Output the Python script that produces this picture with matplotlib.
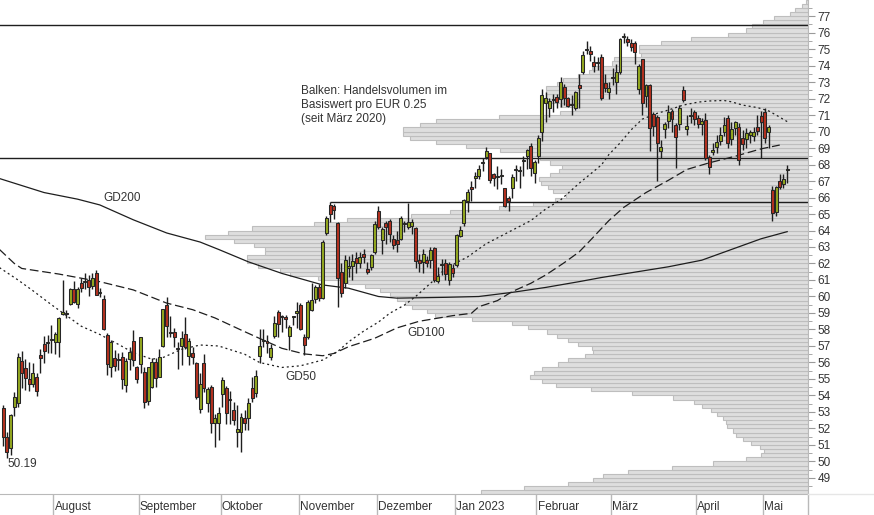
import numpy as np
import matplotlib
matplotlib.use("Agg")
import matplotlib.pyplot as plt
import matplotlib.transforms as mtransforms
from matplotlib.lines import Line2D

plt.rcParams["font.family"] = ["Liberation Sans", "DejaVu Sans"]

# daily candles (open, high, low, close), one list per month, first day 12 Jul 2022
jul = [
    (53.24, 53.40, 50.95, 51.48), (51.50, 51.80, 50.19, 50.59), (50.84, 52.90, 50.39, 52.82),
    (53.32, 54.19, 52.75, 53.93), (53.56, 56.59, 53.30, 56.35), (56.11, 56.72, 54.43, 55.34),
    (55.64, 56.19, 54.33, 55.04), (54.99, 56.05, 54.29, 54.67), (54.67, 55.95, 54.49, 55.34),
    (55.10, 55.35, 53.99, 54.27), (56.45, 56.80, 55.38, 56.25), (57.12, 57.60, 55.95, 56.72),
    (57.18, 57.66, 56.55, 57.22), (57.38, 58.25, 56.60, 57.42),
]
aug = [
    (57.22, 57.87, 56.50, 57.72), (57.22, 58.73, 56.35, 58.67), (58.95, 60.99, 58.90, 59.05),
    (58.92, 59.20, 58.67, 58.98), (59.52, 60.49, 59.50, 60.43), (60.43, 60.96, 59.62, 59.68),
    (59.52, 60.60, 59.28, 60.43), (60.84, 61.10, 60.29, 60.49), (60.88, 61.40, 60.43, 60.92),
    (60.99, 61.30, 60.03, 60.55), (60.63, 61.40, 60.43, 61.14), (61.40, 61.60, 60.09, 60.09),
    (60.20, 60.49, 59.99, 60.28), (59.83, 60.09, 57.97, 58.03), (57.66, 57.80, 55.24, 55.91),
    (55.71, 57.36, 55.14, 57.26), (56.25, 56.76, 55.48, 55.79), (56.20, 56.55, 55.55, 56.15),
    (56.31, 56.65, 54.37, 54.98), (54.63, 56.25, 54.23, 56.11), (56.21, 56.92, 55.54, 56.65),
    (57.32, 57.97, 55.79, 56.15), (55.71, 55.80, 54.74, 54.98),
]
sep = [
    (55.89, 57.52, 55.38, 57.52), (55.40, 55.71, 53.22, 53.62), (53.66, 55.71, 53.42, 55.71),
    (54.49, 56.25, 54.43, 56.05), (56.05, 56.25, 54.49, 55.04), (55.10, 56.80, 55.10, 56.35),
    (56.99, 59.22, 56.92, 59.22), (59.48, 59.99, 57.52, 58.23), (57.85, 58.82, 57.52, 57.80),
    (57.87, 58.07, 56.92, 57.52), (56.88, 57.26, 55.58, 56.82), (56.99, 57.93, 55.85, 57.46),
    (57.72, 58.73, 56.80, 56.92), (56.39, 57.50, 55.85, 57.30), (56.60, 56.92, 55.90, 56.35),
    (55.95, 56.00, 53.80, 53.89), (53.16, 55.34, 52.96, 54.67), (55.95, 56.49, 54.20, 54.43),
    (53.56, 54.50, 53.02, 54.37), (54.49, 54.63, 51.71, 52.35), (52.31, 52.90, 50.90, 52.62),
    (52.31, 53.30, 51.30, 52.92),
]
okt = [
    (54.09, 55.15, 53.30, 54.94), (54.47, 54.57, 52.30, 52.96), (53.80, 54.30, 52.30, 53.75),
    (53.12, 53.60, 52.20, 52.52), (51.77, 53.40, 50.90, 51.97), (51.81, 52.96, 50.60, 52.72),
    (52.66, 53.10, 51.90, 52.31), (52.62, 53.83, 51.90, 53.52), (54.43, 55.14, 53.63, 53.83),
    (54.13, 55.55, 53.93, 55.18), (56.39, 58.00, 55.95, 57.02), (57.30, 58.00, 56.95, 57.36),
    (57.30, 57.65, 56.55, 57.20), (56.35, 57.15, 56.15, 56.86), (57.60, 58.80, 57.46, 58.37),
    (59.04, 59.18, 57.55, 58.33), (58.82, 58.88, 57.87, 58.78), (58.75, 58.88, 58.07, 58.66),
    (57.60, 58.27, 56.76, 58.13), (58.73, 58.84, 58.27, 58.80), (58.97, 59.68, 58.07, 59.10),
]
nov = [
    (59.48, 59.58, 57.97, 58.01), (57.57, 57.70, 56.45, 57.06), (57.57, 59.80, 57.40, 59.68),
    (59.18, 60.80, 59.10, 59.79), (59.85, 60.70, 59.60, 60.60), (60.60, 60.75, 59.75, 59.89),
    (59.89, 63.40, 59.85, 63.32), (63.83, 64.85, 63.70, 64.74), (65.55, 65.75, 64.50, 65.00),
    (65.50, 65.60, 64.70, 65.24), (64.43, 64.50, 59.38, 61.10), (61.50, 62.00, 59.95, 60.19),
    (60.80, 62.50, 60.50, 62.21), (61.70, 62.45, 61.20, 61.85), (61.85, 62.60, 61.00, 62.15),
    (62.31, 62.70, 61.40, 62.05), (62.05, 62.70, 61.70, 62.41), (62.58, 62.85, 62.00, 62.37),
    (61.67, 62.10, 61.35, 61.50), (61.77, 62.60, 61.60, 62.52), (62.72, 64.60, 62.60, 64.37),
]
dez = [
    (65.18, 65.50, 64.10, 64.19), (63.42, 64.20, 62.60, 64.07), (64.47, 64.60, 63.20, 64.23),
    (64.57, 64.70, 63.30, 63.77), (63.46, 63.70, 62.85, 63.12), (63.42, 64.00, 62.70, 63.16),
    (63.46, 64.85, 63.40, 64.74), (64.47, 64.60, 63.90, 64.37), (64.23, 65.65, 64.10, 64.53),
    (64.29, 64.70, 63.80, 64.49), (64.13, 64.20, 61.70, 62.15), (62.21, 62.60, 61.50, 62.01),
    (62.11, 62.90, 61.40, 62.56), (62.20, 62.45, 61.80, 62.00), (62.21, 63.00, 61.70, 62.82),
    (62.92, 63.00, 60.85, 61.00), (60.96, 61.80, 60.80, 61.26), (61.88, 62.30, 61.30, 61.92),
    (62.00, 62.30, 61.00, 61.34), (61.00, 62.10, 60.70, 61.95), (61.75, 61.95, 61.20, 61.40),
]
jan = [
    (61.91, 63.80, 61.80, 63.73), (63.69, 64.30, 63.60, 64.03), (64.43, 65.90, 64.30, 65.85),
    (65.80, 66.50, 65.10, 66.35), (66.66, 67.00, 65.80, 66.50), (67.16, 67.55, 66.55, 67.32),
    (67.32, 68.00, 67.10, 67.71), (68.10, 68.40, 67.60, 68.16), (68.44, 69.05, 68.35, 68.84),
    (68.68, 68.70, 66.90, 67.06), (67.43, 67.50, 66.70, 67.16), (67.25, 67.90, 66.50, 67.29),
    (67.32, 67.70, 66.80, 67.35), (66.56, 66.60, 65.45, 65.50), (66.00, 66.10, 65.20, 65.80),
    (66.56, 67.40, 66.00, 67.26), (67.68, 67.95, 67.00, 67.72), (67.58, 67.90, 66.55, 67.62),
    (68.20, 68.50, 67.30, 68.24), (68.52, 68.95, 67.75, 68.88), (69.12, 69.30, 67.30, 67.77),
    (67.50, 68.30, 66.90, 68.13),
]
feb = [
    (68.52, 69.80, 68.10, 69.59), (69.99, 72.60, 69.40, 72.21), (71.71, 72.40, 70.60, 72.01),
    (71.45, 72.05, 70.90, 71.87), (71.93, 72.30, 71.20, 71.97), (72.07, 72.30, 71.40, 71.81),
    (71.95, 73.30, 71.50, 72.98), (72.72, 72.90, 71.60, 72.01), (72.01, 72.10, 71.50, 71.55),
    (71.62, 72.20, 71.00, 71.58), (71.40, 72.45, 71.30, 72.37), (72.82, 73.50, 71.40, 72.62),
    (73.63, 74.90, 73.50, 74.64), (74.95, 75.50, 74.70, 74.99), (74.88, 75.20, 74.30, 74.68),
    (74.23, 74.60, 73.60, 73.99), (74.18, 74.50, 73.70, 74.22), (74.50, 74.70, 71.90, 72.01),
    (72.96, 73.50, 72.40, 72.62), (72.37, 73.00, 72.00, 72.62),
]
mar = [
    (73.27, 73.85, 72.80, 73.32), (72.98, 74.10, 72.30, 73.59), (73.63, 75.65, 73.50, 75.61),
    (75.75, 75.95, 75.35, 75.80), (75.60, 75.80, 75.20, 75.40), (75.34, 75.60, 74.90, 75.14),
    (75.34, 75.50, 74.10, 74.80), (72.56, 74.10, 72.30, 73.99), (74.37, 74.40, 71.00, 71.70),
    (72.17, 72.85, 71.50, 72.82), (72.82, 72.90, 68.80, 70.19), (71.04, 71.20, 69.70, 70.35),
    (70.86, 71.00, 67.00, 69.28), (68.84, 69.50, 68.40, 69.08), (70.15, 70.60, 69.60, 70.45),
    (70.66, 71.60, 70.20, 71.16), (71.26, 71.35, 70.00, 70.74), (70.39, 70.50, 67.80, 69.69),
    (70.43, 71.60, 70.10, 71.44), (72.52, 72.75, 71.80, 71.91), (70.13, 71.00, 69.80, 70.33),
    (70.92, 71.40, 70.50, 70.96), (71.16, 71.30, 70.40, 70.76),
]
apr = [
    (70.80, 71.00, 70.20, 70.43), (70.45, 70.80, 69.80, 70.66), (70.69, 71.10, 68.30, 68.37),
    (68.43, 68.60, 67.40, 67.87), (68.74, 69.30, 68.55, 68.88), (69.04, 69.80, 68.70, 69.34),
    (69.44, 70.30, 69.20, 69.79), (69.99, 70.85, 69.70, 70.39), (70.80, 71.00, 69.00, 69.28),
    (69.55, 70.60, 69.20, 70.15), (70.19, 70.65, 69.80, 70.60), (70.25, 70.50, 68.00, 68.27),
    (69.59, 70.10, 68.85, 69.22), (69.55, 70.20, 69.00, 69.89), (69.79, 70.10, 69.30, 69.95),
    (69.75, 70.30, 69.40, 70.00), (70.25, 71.00, 69.80, 70.05), (70.96, 71.25, 68.40, 70.60),
]
mai = [
    (71.16, 71.45, 69.30, 69.59), (69.99, 70.40, 69.00, 70.25), (66.46, 66.70, 64.55, 65.08),
    (65.14, 66.70, 64.90, 66.62), (67.02, 67.40, 66.50, 66.62), (66.82, 67.40, 66.60, 67.12),
    (67.64, 67.98, 66.85, 67.68),
]

month_names = ["August", "September", "Oktober", "November", "Dezember",
               "Jan 2023", "Februar", "März", "April", "Mai"]

# moving averages (day index, value)
gd50_x = [-1, 4, 8, 13, 17, 21, 26, 31, 35, 40, 43, 48, 53, 58, 65, 69, 75, 80, 86, 90,
          93, 97, 101, 104, 108, 111, 116, 119, 125, 130, 136, 142, 146, 150, 155, 161, 163,
          166, 169, 172, 176, 179, 183, 187, 190, 194, 196, 199, 203, 206, 208, 211]
gd50_y = [61.75, 61.0, 60.35, 59.5, 58.85, 58.2, 57.7, 57.1, 56.6, 56.2, 56.3, 56.8, 57.06,
          57.0, 56.5, 56.0, 55.7, 55.8, 56.15, 56.66, 57.26, 57.9, 58.45, 58.98, 59.48, 60.0,
          61.0, 61.7, 62.4, 63.2, 63.9, 64.6, 65.3, 65.85, 66.86, 67.97, 68.6, 69.3, 70.1,
          70.75, 71.1, 71.3, 71.6, 71.78, 71.85, 71.88, 71.8, 71.6, 71.45, 71.25, 71.0, 70.6]
gd100_x = [-1, 3, 5, 15, 26, 35, 44, 51, 57, 64, 69, 75, 81, 86, 89, 93, 100, 106, 112, 121,
           126, 128, 133, 137, 142, 146, 151, 155, 158, 163, 167, 173, 179, 184, 190, 197, 204, 209]
gd100_y = [62.85, 62.0, 61.7, 61.36, 60.9, 60.4, 59.6, 59.2, 58.7, 57.97, 57.46, 56.86, 56.52,
           56.41, 56.55, 56.96, 57.47, 58.1, 58.5, 58.84, 58.98, 59.38, 59.75, 60.3, 60.8,
           61.3, 62.05, 62.7, 63.4, 64.6, 65.4, 66.3, 67.04, 67.7, 68.1, 68.5, 68.95, 69.18]
gd200_x = [-1, 11, 20, 26, 35, 44, 53, 58, 66, 75, 86, 93, 101, 106, 119, 128, 137, 146, 155,
           161, 179, 188, 196, 204, 211]
gd200_y = [67.15, 66.3, 65.9, 65.55, 64.65, 63.85, 63.3, 62.85, 62.1, 61.4, 60.7, 60.5, 60.0,
           59.9, 59.95, 60.0, 60.25, 60.55, 60.9, 61.15, 61.8, 62.2, 62.85, 63.5, 63.93]

# volume profile, one bar per EUR 0.25 starting at 48.00 (relative units)
profile_start = 48.0
profile_step = 0.25
profile_vol = [
    327, 284, 240, 215, 205, 180, 136, 95,      # 48
    62, 47, 44, 48, 57, 65, 72, 75,             # 50
    81, 82, 85, 91, 97, 106, 114, 135,          # 52
    176, 217, 252, 266, 278, 274, 266, 250,     # 54
    240, 223, 215, 216, 230, 240, 251, 261,     # 56
    280, 296, 336, 373, 381, 396, 403, 411,     # 58
    418, 428, 443, 460, 490, 518, 528, 550,     # 60
    561, 561, 543, 543, 554, 574, 603, 580,     # 62
    556, 494, 461, 397, 358, 309, 275, 253,     # 64
    242, 255, 260, 267, 269, 258, 249, 246,     # 66
    258, 268, 282, 308, 342, 372, 398, 405,     # 68
    405, 388, 372, 309, 248, 233, 248, 258,     # 70
    262, 262, 262, 251, 245, 230, 219, 216,     # 72
    196, 194, 167, 169, 169, 147, 117, 80,      # 74
    62, 56, 45, 34, 18, 13, 6, 2,               # 76
]

level_lines = [76.45, 68.4]

GREEN = "#93a71f"
RED = "#b3311f"
EDGE = "#262626"
INK = "#1e1e1e"
TEXT = "#333333"
GRID = "#b9b9b9"
FS = 8.5

blocks = [jul, aug, sep, okt, nov, dez, jan, feb, mar, apr, mai]
candles = [row for b in blocks for row in b]
o, h, l, c = (np.array(v) for v in zip(*candles))
h = np.maximum(h, np.maximum(o, c))
l = np.minimum(l, np.minimum(o, c))
x = np.arange(len(candles))
month_starts = np.cumsum([len(b) for b in blocks])[:-1]

fig = plt.figure(figsize=(8.74, 5.15), dpi=100)
ax = fig.add_axes([0, 21 / 515, 808 / 874, 494 / 515])
ax2 = ax.twiny()

# volume profile from the right edge
levels = profile_start + profile_step * np.arange(len(profile_vol))
ax2.barh(levels, profile_vol, height=profile_step, align="edge", left=0,
         color="#dedede", edgecolor="#bebebe", linewidth=0.8)
ax2.set_xlim(808, 0)
ax2.set_axis_off()
ax.set_zorder(ax2.get_zorder() + 1)
ax.patch.set_visible(False)

# support / resistance lines
for lv in level_lines:
    ax.axhline(lv, color=INK, lw=1.0, zorder=1)
nov_first = month_starts[3]
top_idx = nov_first + int(np.argmax(h[nov_first:month_starts[4]]))
ax.hlines(h[top_idx], top_idx, 230, color=INK, lw=1.0, zorder=1)

# moving averages
ax.plot(gd200_x, gd200_y, color=INK, lw=0.9, zorder=2)
ax.plot(gd100_x, gd100_y, color=INK, lw=0.9, dashes=(7, 3), zorder=2)
ax.plot(gd50_x, gd50_y, color=INK, lw=0.9, dashes=(1.6, 2.4), zorder=2)

# candles
up = c >= o
body_lo = np.minimum(o, c)
body_h = np.maximum(np.abs(c - o), 0.06)
ax.vlines(x, l, h, color=INK, lw=1.0, zorder=3)
ax.bar(x, body_h, bottom=body_lo, width=0.8,
       color=np.where(up, GREEN, RED), edgecolor=EDGE, linewidth=0.75, zorder=4)

ax.set_xlim(-0.86, 216.6)
ax.set_ylim(48.03, 77.97)

# right price axis
ax.yaxis.tick_right()
ax.set_yticks(np.arange(49, 78, 1))
ax.set_yticks(np.arange(48.5, 78, 1), minor=True)
ax.tick_params(axis="y", which="major", length=5, color="#9a9a9a", labelsize=FS,
               labelcolor=TEXT, pad=2)
ax.tick_params(axis="y", which="minor", length=3, color="#9a9a9a")

# month separators
ax.set_xticks(month_starts - 0.5)
ax.set_xticklabels([])
ax.tick_params(axis="x", which="major", length=15.5, color=GRID, width=1)
trans = mtransforms.blended_transform_factory(ax.transData, ax.transAxes)
for s, name in zip(month_starts, month_names):
    ax.text(s - 0.2, -0.027, name, transform=trans, ha="left", va="center",
            fontsize=FS, color=TEXT)

for side in ["top", "left"]:
    ax.spines[side].set_visible(False)
for side in ["right", "bottom"]:
    ax.spines[side].set_color(GRID)
fig.add_artist(Line2D([808 / 874, 808 / 874], [0, 21 / 515], color=GRID, lw=1))
fig.add_artist(Line2D([808 / 874, 1], [21 / 515, 21 / 515], color="#e6e6e6", lw=1))

# labels
ax.text(27, 65.97, "GD200", fontsize=FS, color=TEXT, va="center", ha="left")
ax.text(76, 55.12, "GD50", fontsize=FS, color=TEXT, va="center", ha="left")
ax.text(108.7, 57.79, "GD100", fontsize=FS, color=TEXT, va="center", ha="left")
ax.text(0.3725, 0.828, "Balken: Handelsvolumen im\nBasiswert pro EUR 0.25\n(seit März 2020)",
        transform=ax.transAxes, fontsize=FS, color=TEXT, va="top", ha="left",
        linespacing=1.2)

imin = int(np.argmin(l))
ax.annotate("{0:.2f}".format(l[imin]), xy=(imin, l[imin]), xytext=(1, -6),
            textcoords="offset pixels", fontsize=FS, color=TEXT, ha="left", va="center")

fig.savefig("out.png", dpi=100)
